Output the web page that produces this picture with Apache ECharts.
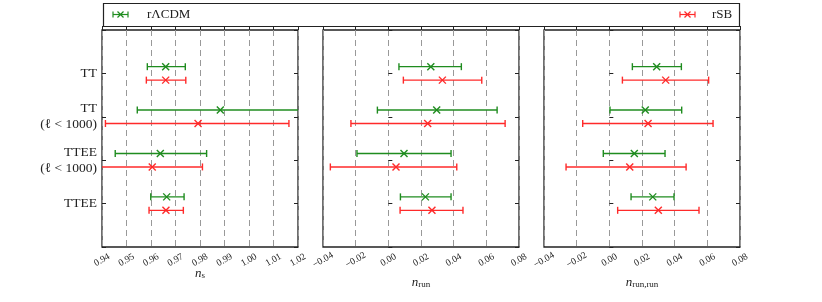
<!DOCTYPE html>
<html><head><meta charset="utf-8">
<script src="https://cdn.jsdelivr.net/npm/echarts@6/dist/echarts.min.js"></script>
<style>html,body{margin:0;padding:0;background:#fff}#c{width:822px;height:302px}</style>
</head><body><div id="c"></div>
<script>
// ---- data ----
const categories = ['TT', 'TT\n(ℓ < 1000)', 'TTEE\n(ℓ < 1000)', 'TTEE'];
const modelNames = ['rΛCDM', 'rSB'];
// each row: [low, central, high] per category
const ns_rLCDM = [[0.9585, 0.966, 0.974], [0.9544, 0.9883, 1.022], [0.9454, 0.9638, 0.9827], [0.9599, 0.9664, 0.9735]];
const ns_rSB   = [[0.9581, 0.966, 0.9742], [0.9414, 0.9792, 1.0163], [0.9395, 0.9605, 0.981], [0.9592, 0.9661, 0.9732]];
const nrun_rLCDM = [[0.0065, 0.026, 0.0447], [-0.0067, 0.0296, 0.0666], [-0.0192, 0.0096, 0.0384], [0.0074, 0.0227, 0.0384]];
const nrun_rSB   = [[0.0092, 0.0331, 0.0572], [-0.0229, 0.0241, 0.0715], [-0.0355, 0.0047, 0.0419], [0.0072, 0.0267, 0.0457]];
const nrr_rLCDM = [[0.0141, 0.029, 0.0441], [0.0004, 0.022, 0.0443], [-0.0037, 0.0153, 0.0341], [0.0133, 0.0266, 0.0396]];
const nrr_rSB   = [[0.008, 0.0345, 0.0608], [-0.0163, 0.0237, 0.0635], [-0.0265, 0.0125, 0.047], [0.0051, 0.03, 0.0549]];
const panelRanges = [[0.94, 1.02, 0.01], [-0.04, 0.08, 0.02], [-0.04, 0.08, 0.02]];
const panelNames = [['n', 's'], ['n', 'run'], ['n', 'run,run']];
const panelData = [[ns_rLCDM, ns_rSB], [nrun_rLCDM, nrun_rSB], [nrr_rLCDM, nrr_rSB]];

// ---- style ----
const FONT = 'Liberation Serif';
const colors = ['#1f8c1f', '#ff2a2a'];
const offsets = [-0.155, 0.155];
const gridLefts = [102, 323, 544];
const gridW = 196, gridTop = 30, gridH = 217;
const nameGaps = [17, 26, 26];

const chart = echarts.init(document.getElementById('c'), null, {renderer: 'canvas'});

function fmtTick(v, dec) {
  const s = Math.abs(v).toFixed(dec);
  return (v < -1e-9 ? '\u2212' : '') + s;
}

function renderErr(color) {
  return function (params, api) {
    const lo = api.value(0), mid = api.value(1), hi = api.value(2), y = api.value(3);
    const cs = params.coordSys;
    const xmin = cs.x, xmax = cs.x + cs.width;
    const pL = api.coord([lo, y]), pM = api.coord([mid, y]), pH = api.coord([hi, y]);
    const yy = pM[1];
    const x1 = Math.max(pL[0], xmin), x2 = Math.min(pH[0], xmax);
    const st = {stroke: color, lineWidth: 1.4, fill: null};
    const ch = [{type: 'line', shape: {x1: x1, y1: yy, x2: x2, y2: yy}, style: st}];
    const cap = 3.5;
    if (pL[0] >= xmin - 0.5) ch.push({type: 'line', shape: {x1: pL[0], y1: yy - cap, x2: pL[0], y2: yy + cap}, style: st});
    if (pH[0] <= xmax + 0.5) ch.push({type: 'line', shape: {x1: pH[0], y1: yy - cap, x2: pH[0], y2: yy + cap}, style: st});
    const m = 3.5;
    ch.push({type: 'line', shape: {x1: pM[0] - m, y1: yy - m, x2: pM[0] + m, y2: yy + m}, style: st});
    ch.push({type: 'line', shape: {x1: pM[0] - m, y1: yy + m, x2: pM[0] + m, y2: yy - m}, style: st});
    return {type: 'group', children: ch};
  };
}

const grids = [], xAxes = [], yAxes = [], series = [];
for (let p = 0; p < 3; p++) {
  grids.push({left: gridLefts[p], top: gridTop, width: gridW, height: gridH, show: true,
    borderColor: '#222', borderWidth: 1.3, backgroundColor: 'transparent'});
  const [mn, mx, iv] = panelRanges[p];
  const dec = 2;
  xAxes.push({type: 'value', gridIndex: p, min: mn, max: mx, interval: iv, position: 'bottom',
    axisLine: {show: false},
    axisTick: {show: true, inside: true, length: 4, lineStyle: {color: '#222'}},
    splitLine: {show: true, lineStyle: {color: '#999', type: [6, 4], width: 1}},
    axisLabel: {show: true, rotate: 30, align: 'center', verticalAlign: 'middle', margin: 13,
      fontFamily: FONT, fontSize: 9.5, color: '#222', showMinLabel: true, showMaxLabel: true,
      hideOverlap: false, formatter: v => fmtTick(v, dec)},
    name: '{n|' + panelNames[p][0] + '}{s|' + panelNames[p][1] + '}', nameLocation: 'middle', nameGap: nameGaps[p],
    nameMoveOverlap: false,
    nameTextStyle: {rich: {
      n: {fontFamily: FONT, fontStyle: 'italic', fontSize: 13, color: '#222', verticalAlign: 'bottom', lineHeight: 16},
      s: {fontFamily: FONT, fontSize: 9, color: '#222', verticalAlign: 'bottom', lineHeight: 12}
    }}
  });
  for (const side of ['left', 'right']) {
    yAxes.push({type: 'value', gridIndex: p, min: 0, max: 5, interval: 1, inverse: true, position: side,
      axisLine: {show: false},
      axisTick: {show: true, inside: true, length: 4, lineStyle: {color: '#222'}},
      splitLine: {show: false},
      axisLabel: {show: p === 0 && side === 'left', margin: 5, fontFamily: FONT, fontSize: 13.5, lineHeight: 16,
        color: '#222', align: 'right',
        formatter: v => (v >= 1 && v <= 4) ? categories[v - 1] : ''}
    });
  }
  for (let m = 0; m < 2; m++) {
    const rows = panelData[p][m].map((r, i) => [r[0], r[1], r[2], i + 1 + offsets[m]]);
    series.push({type: 'custom', name: modelNames[m], xAxisIndex: p, yAxisIndex: p * 2,
      renderItem: renderErr(colors[m]), data: rows, encode: {x: [0, 1, 2], y: 3}, silent: true, animation: false});
  }
}

// legend drawn as graphic
function legendIcon(cx, cy, color) {
  const st = {stroke: color, lineWidth: 1.2};
  return [
    {type: 'line', shape: {x1: cx - 7.5, y1: cy, x2: cx + 7.5, y2: cy}, style: st},
    {type: 'line', shape: {x1: cx - 7.5, y1: cy - 3, x2: cx - 7.5, y2: cy + 3}, style: st},
    {type: 'line', shape: {x1: cx + 7.5, y1: cy - 3, x2: cx + 7.5, y2: cy + 3}, style: st},
    {type: 'line', shape: {x1: cx - 3, y1: cy - 3, x2: cx + 3, y2: cy + 3}, style: st},
    {type: 'line', shape: {x1: cx - 3, y1: cy + 3, x2: cx + 3, y2: cy - 3}, style: st}
  ];
}
const graphic = [
  {type: 'rect', shape: {x: 103.5, y: 3.5, width: 636, height: 23}, style: {fill: '#fff', stroke: '#222', lineWidth: 1.2}},
  ...legendIcon(120.5, 14.5, colors[0]),
  {type: 'text', x: 147, y: 15, style: {text: modelNames[0], fontFamily: FONT, fontSize: 13, fill: '#222', textVerticalAlign: 'middle', verticalAlign: 'middle'}},
  ...legendIcon(687.5, 14.5, colors[1]),
  {type: 'text', x: 712, y: 15, style: {text: modelNames[1], fontFamily: FONT, fontSize: 13, fill: '#222', textVerticalAlign: 'middle', verticalAlign: 'middle'}}
];

chart.setOption({animation: false, backgroundColor: '#fff', grid: grids, xAxis: xAxes, yAxis: yAxes, series: series, graphic: graphic});
</script></body></html>
